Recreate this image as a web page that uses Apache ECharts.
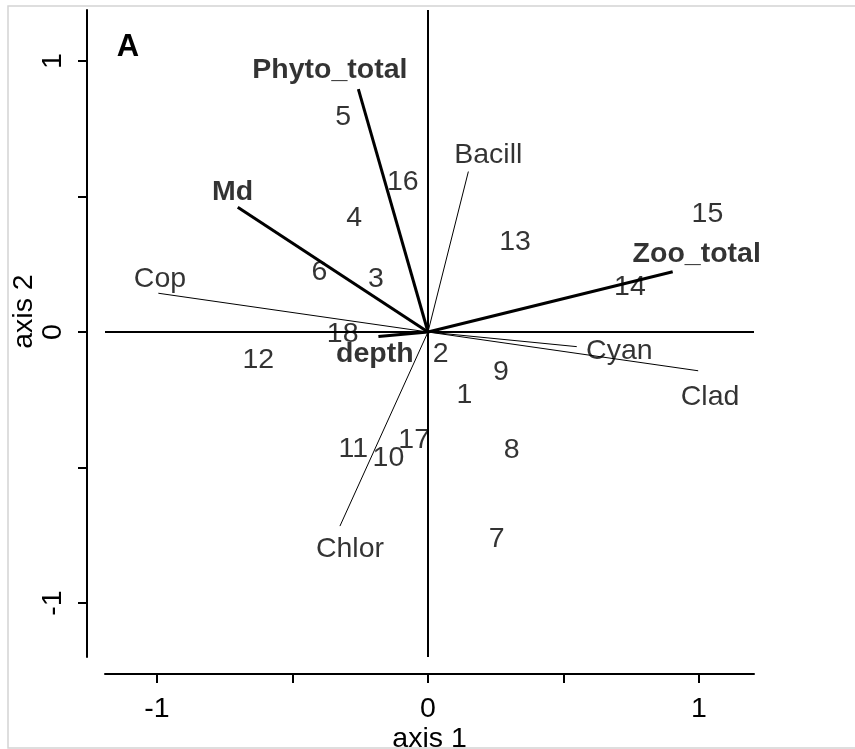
<!DOCTYPE html>
<html>
<head>
<meta charset="utf-8">
<script src="https://cdn.jsdelivr.net/npm/echarts@6/dist/echarts.min.js"></script>
<style>
html,body{margin:0;padding:0;background:#fff;}
#chart{width:855px;height:749px;}
</style>
</head>
<body>
<div id="chart"></div>
<script>
// ---- data (axis units) ----
const sampleNames = ['1','2','3','4','5','6','7','8','9','10','11','12','13','14','15','16','17','18'];
const sampleX = [0.134, 0.047, -0.192, -0.272, -0.313, -0.401, 0.253, 0.309, 0.269, -0.146, -0.276, -0.626, 0.321, 0.745, 1.031, -0.093, -0.051, -0.315];
const sampleY = [-0.226, -0.073, 0.202, 0.428, 0.801, 0.229, -0.755, -0.429, -0.140, -0.458, -0.423, -0.097, 0.339, 0.173, 0.444, 0.561, -0.392, 0.001];

const speciesNames = ['Cop', 'Bacill', 'Cyan', 'Clad', 'Chlor'];
const speciesX = [-0.995, 0.149, 0.549, 0.997, -0.325];
const speciesY = [0.143, 0.592, -0.054, -0.143, -0.716];
const speciesLabelX = [-0.989, 0.2225, 0.706, 1.041, -0.288];
const speciesLabelY = [0.202, 0.659, -0.064, -0.232, -0.792];

const envNames = ['Phyto_total', 'Md', 'Zoo_total', 'depth'];
const envX = [-0.257, -0.702, 0.903, -0.183];
const envY = [0.896, 0.460, 0.2225, -0.017];
const envLabelX = [-0.362, -0.721, 0.9915, -0.196];
const envLabelY = [0.974, 0.524, 0.296, -0.073];

const xTicks = [-1, -0.5, 0, 0.5, 1];
const xTickLabels = [-1, 0, 1];
const yTicks = [-1, -0.5, 0, 0.5, 1];
const yTickLabels = [-1, 0, 1];

const FONT = '"Liberation Sans", Arial, Helvetica, sans-serif';
const FS = 28.5;
const INK = '#000';

const chart = echarts.init(document.getElementById('chart'), null, {renderer: 'canvas'});

const vec = (xs, ys) => xs.map((x, i) => ({coords: [[0, 0], [x, ys[i]]]}));
const pts = (names, xs, ys) => names.map((n, i) => ({name: n, value: [xs[i], ys[i]]}));
const textLabel = (bold) => ({
  show: true, position: 'inside', formatter: '{b}', offset: [0, 2],
  color: INK, fontFamily: FONT, fontSize: FS, fontWeight: bold ? 'bold' : 'normal'
});

chart.setOption({
  animation: false,
  backgroundColor: '#fff',
  grid: {left: 105, right: 101, top: 10, bottom: 92, containLabel: false, outerBoundsMode: 'none'},
  xAxis: {
    type: 'value', min: -1.1919, max: 1.203, offset: 17,
    name: 'axis 1', nameLocation: 'middle', nameGap: 51, nameMoveOverlap: false,
    nameTextStyle: {color: INK, fontFamily: FONT, fontSize: FS},
    axisLine: {show: true, onZero: false, lineStyle: {color: INK, width: 2}},
    axisTick: {show: true, length: 9, customValues: xTicks, lineStyle: {color: INK, width: 2}},
    axisLabel: {show: true, customValues: xTickLabels, margin: 21, color: INK, fontFamily: FONT, fontSize: FS},
    splitLine: {show: false}
  },
  yAxis: {
    type: 'value', min: -1.199, max: 1.188, offset: 18,
    name: 'axis 2', nameLocation: 'middle', nameGap: 48, nameMoveOverlap: false,
    nameTextStyle: {color: INK, fontFamily: FONT, fontSize: FS, padding: [0, 0, 0, 44]},
    axisLine: {show: true, onZero: false, lineStyle: {color: INK, width: 2}},
    axisTick: {show: true, length: 9, customValues: yTicks, lineStyle: {color: INK, width: 2}},
    axisLabel: {show: true, customValues: yTickLabels, rotate: 90, margin: 19, color: INK, fontFamily: FONT, fontSize: FS},
    splitLine: {show: false}
  },
  graphic: [
    {type: 'rect', silent: true, z: 100, shape: {x: 8, y: 6, width: 870, height: 742},
     style: {fill: 'none', stroke: '#d4d4d4', lineWidth: 1.5}},
    {type: 'text', x: 128, y: 47, z: 100,
     style: {text: 'A', font: 'bold 31px ' + FONT, fill: INK, textAlign: 'center', textVerticalAlign: 'middle'}}
  ],
  series: [
    {
      type: 'scatter', name: 'samples', z: 2,
      symbol: 'circle', symbolSize: 1, itemStyle: {color: 'rgba(0,0,0,0)'},
      label: textLabel(false),
      data: pts(sampleNames, sampleX, sampleY),
      markLine: {
        silent: true, symbol: 'none', label: {show: false},
        lineStyle: {color: INK, width: 2, type: 'solid'},
        data: [{xAxis: 0}, {yAxis: 0}]
      }
    },
    {
      type: 'lines', name: 'species', coordinateSystem: 'cartesian2d', z: 3,
      lineStyle: {color: INK, width: 1, opacity: 1},
      data: vec(speciesX, speciesY)
    },
    {
      type: 'lines', name: 'env', coordinateSystem: 'cartesian2d', z: 4,
      lineStyle: {color: INK, width: 3, opacity: 1},
      data: vec(envX, envY)
    },
    {
      type: 'scatter', name: 'speciesLabels', z: 5,
      symbol: 'circle', symbolSize: 1, itemStyle: {color: 'rgba(0,0,0,0)'},
      label: textLabel(false),
      data: pts(speciesNames, speciesLabelX, speciesLabelY)
    },
    {
      type: 'scatter', name: 'envLabels', z: 5,
      symbol: 'circle', symbolSize: 1, itemStyle: {color: 'rgba(0,0,0,0)'},
      label: textLabel(true),
      data: pts(envNames, envLabelX, envLabelY)
    }
  ]
});
</script>
</body>
</html>
